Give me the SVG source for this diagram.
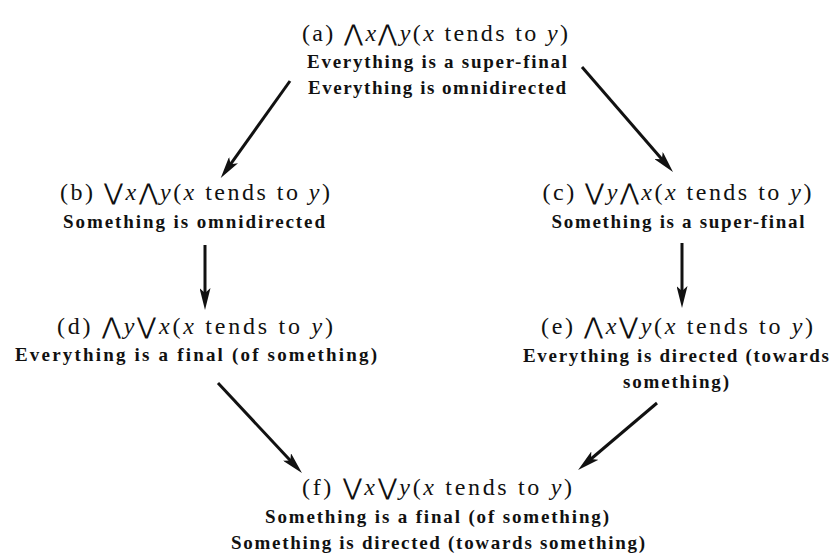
<svg xmlns="http://www.w3.org/2000/svg" width="834" height="557" viewBox="0 0 834 557">
<style>
.lab{font-family:"Liberation Serif","DejaVu Serif",serif;font-size:24px;fill:#111;text-anchor:middle}
.q{font-family:"DejaVu Sans","Liberation Serif",sans-serif;font-size:23px;font-weight:300}
.i{font-style:italic}
.sub{font-family:"Liberation Serif","DejaVu Serif",serif;font-size:19px;font-weight:bold;fill:#111;text-anchor:middle}
.arr{stroke:#111;stroke-width:3;fill:none;marker-end:url(#ah)}
</style>
<defs>
<marker id="ah" viewBox="0 0 22 11" refX="9" refY="5.5" markerWidth="22" markerHeight="11" markerUnits="userSpaceOnUse" orient="auto">
<path d="M0,0 L22,5.5 L0,11 L5,5.5 z" fill="#111"/>
</marker>
</defs>
<rect width="834" height="557" fill="#fff"/>
<g id="node-a">
<text class="lab" x="435" y="41" textLength="266">(a) <tspan class="q">⋀</tspan><tspan class="i">x</tspan><tspan class="q">⋀</tspan><tspan class="i">y</tspan>(<tspan class="i">x</tspan> tends to <tspan class="i">y</tspan>)</text>
<text class="sub" x="437" y="68" textLength="260">Everything is a super-final</text>
<text class="sub" x="437" y="94" textLength="258">Everything is omnidirected</text>
</g>
<g id="node-b">
<text class="lab" x="195" y="200" textLength="270">(b) <tspan class="q">⋁</tspan><tspan class="i">x</tspan><tspan class="q">⋀</tspan><tspan class="i">y</tspan>(<tspan class="i">x</tspan> tends to <tspan class="i">y</tspan>)</text>
<text class="sub" x="194" y="228" textLength="262">Something is omnidirected</text>
</g>
<g id="node-c">
<text class="lab" x="677" y="200" textLength="269">(c) <tspan class="q">⋁</tspan><tspan class="i">y</tspan><tspan class="q">⋀</tspan><tspan class="i">x</tspan>(<tspan class="i">x</tspan> tends to <tspan class="i">y</tspan>)</text>
<text class="sub" x="678" y="228" textLength="253">Something is a super-final</text>
</g>
<g id="node-d">
<text class="lab" x="195" y="334" textLength="276">(d) <tspan class="q">⋀</tspan><tspan class="i">y</tspan><tspan class="q">⋁</tspan><tspan class="i">x</tspan>(<tspan class="i">x</tspan> tends to <tspan class="i">y</tspan>)</text>
<text class="sub" x="196" y="361" textLength="362">Everything is a final (of something)</text>
</g>
<g id="node-e">
<text class="lab" x="677" y="334" textLength="272">(e) <tspan class="q">⋀</tspan><tspan class="i">x</tspan><tspan class="q">⋁</tspan><tspan class="i">y</tspan>(<tspan class="i">x</tspan> tends to <tspan class="i">y</tspan>)</text>
<text class="sub" x="676" y="362" textLength="306">Everything is directed (towards</text>
<text class="sub" x="676" y="388" textLength="106">something)</text>
</g>
<g id="node-f">
<text class="lab" x="437" y="495" textLength="270">(f) <tspan class="q">⋁</tspan><tspan class="i">x</tspan><tspan class="q">⋁</tspan><tspan class="i">y</tspan>(<tspan class="i">x</tspan> tends to <tspan class="i">y</tspan>)</text>
<text class="sub" x="437" y="523" textLength="344">Something is a final (of something)</text>
<text class="sub" x="438" y="549" textLength="414">Something is directed (towards something)</text>
</g>
<g id="connectors">
<line class="arr" x1="290" y1="81" x2="228.3" y2="167.4"/>
<line class="arr" x1="582" y1="67" x2="664.5" y2="162.2"/>
<line class="arr" x1="205" y1="245" x2="205" y2="297"/>
<line class="arr" x1="682" y1="243" x2="682" y2="295"/>
<line class="arr" x1="218" y1="383" x2="293.1" y2="463.5"/>
<line class="arr" x1="657" y1="403" x2="588" y2="461.5"/>
</g>
</svg>
